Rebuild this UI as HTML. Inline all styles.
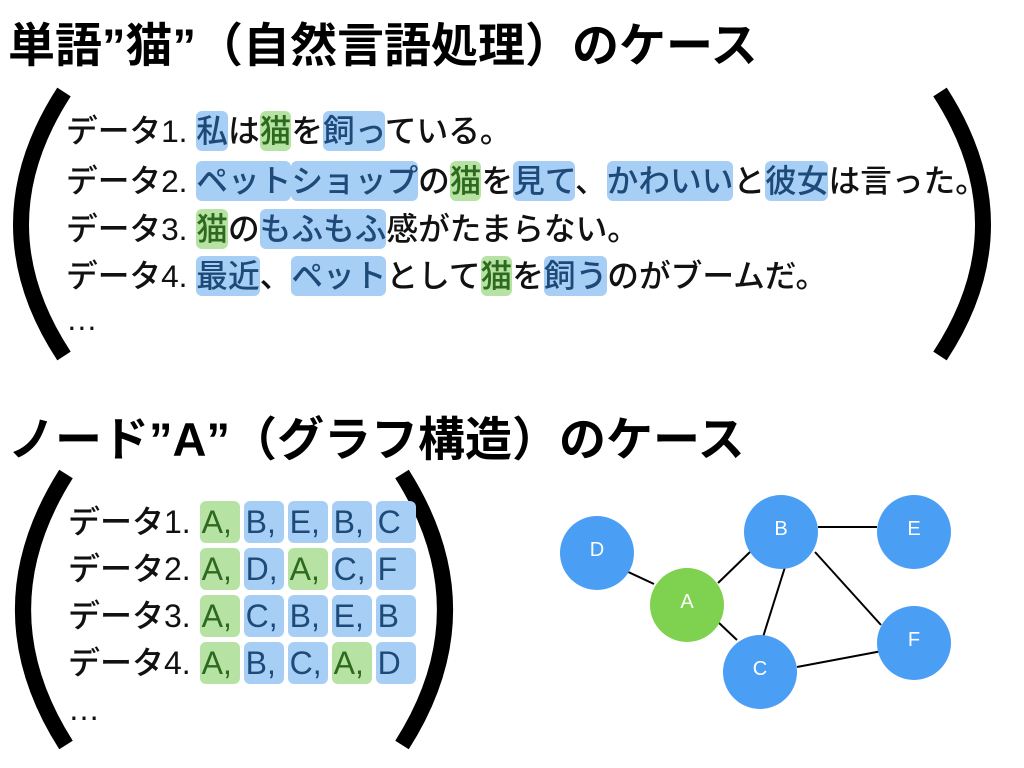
<!DOCTYPE html>
<html><head><meta charset="utf-8"><style>
body{margin:0;width:1024px;height:768px;background:#fff;overflow:hidden;position:relative;font-family:"Liberation Sans","Noto Sans CJK JP",sans-serif;}
.t{position:absolute;left:8px;font-size:47px;font-weight:bold;white-space:nowrap;line-height:1;}
.l{position:absolute;left:66px;font-size:31.7px;white-space:nowrap;line-height:38px;color:#111;font-weight:500;}
.b{background:#a7cff5;color:#1d4a78;border-radius:6px;padding:2px 0;}
.g{background:#b6e3a3;color:#2e6a1d;border-radius:6px;padding:2px 0;}
.m{position:absolute;left:68px;font-size:32px;white-space:nowrap;line-height:38px;color:#111;font-weight:500;}
.m span{display:inline-block;width:40px;margin-right:4px;padding:2px 0 2px 2px;box-sizing:border-box;border-radius:6px;line-height:38px;}
</style></head><body>
<div class="t" style="top:22px">単語”猫”（自然言語処理）のケース</div>
<div class="t" style="top:416px">ノード”A”（グラフ構造）のケース</div>
<svg width="1024" height="768" style="position:absolute;left:0;top:0">
<path d="M64 92 Q-22 225 64 356" stroke="#000" stroke-width="16" fill="none"/>
<path d="M940 92 Q1026 225 940 356" stroke="#000" stroke-width="16" fill="none"/>
<path d="M66 474 Q-20 610 66 745" stroke="#000" stroke-width="16" fill="none"/>
<path d="M402 474 Q488 610 402 745" stroke="#000" stroke-width="16" fill="none"/>
<g stroke="#000" stroke-width="2">
<line x1="624" y1="570" x2="654" y2="584"/>
<line x1="718" y1="583" x2="750" y2="552"/>
<line x1="718" y1="622" x2="737" y2="640"/>
<line x1="785" y1="567" x2="763" y2="637"/>
<line x1="818" y1="527" x2="877" y2="527"/>
<line x1="815" y1="552" x2="881" y2="625"/>
<line x1="797" y1="667" x2="882" y2="651"/>
</g>
<g fill="#4a9ff5"><circle cx="597" cy="553" r="37"/><circle cx="781" cy="532" r="37"/><circle cx="914" cy="532" r="37"/><circle cx="760" cy="672" r="37"/><circle cx="914" cy="643" r="37"/></g>
<circle cx="687" cy="605" r="37" fill="#7fd150"/>
<g fill="#fff" font-size="20" text-anchor="middle" font-family="Liberation Sans,sans-serif">
<text x="597" y="556">D</text><text x="781" y="535">B</text><text x="914" y="535">E</text><text x="760" y="675">C</text><text x="914" y="646">F</text><text x="687" y="608">A</text></g>
</svg>
<div class="l" style="top:112px">データ1. <span class="b">私</span>は<span class="g">猫</span>を<span class="b">飼っ</span>ている。</div>
<div class="l" style="top:162px">データ2. <span class="b">ペット</span><span class="b">ショップ</span>の<span class="g">猫</span>を<span class="b">見て</span>、<span class="b">かわいい</span>と<span class="b">彼女</span>は言った。</div>
<div class="l" style="top:210px">データ3. <span class="g">猫</span>の<span class="b">もふもふ</span>感がたまらない。</div>
<div class="l" style="top:257px">データ4. <span class="b">最近</span>、<span class="b">ペット</span>として<span class="g">猫</span>を<span class="b">飼う</span>のがブームだ。</div>
<div class="l" style="top:300px">…</div>
<div class="m" style="top:501px">データ1. <span class="g">A,</span><span class="b">B,</span><span class="b">E,</span><span class="b">B,</span><span class="b">C</span></div>
<div class="m" style="top:548px">データ2. <span class="g">A,</span><span class="b">D,</span><span class="g">A,</span><span class="b">C,</span><span class="b">F</span></div>
<div class="m" style="top:595px">データ3. <span class="g">A,</span><span class="b">C,</span><span class="b">B,</span><span class="b">E,</span><span class="b">B</span></div>
<div class="m" style="top:642px">データ4. <span class="g">A,</span><span class="b">B,</span><span class="b">C,</span><span class="g">A,</span><span class="b">D</span></div>
<div class="m" style="top:690px">…</div>
</body></html>
